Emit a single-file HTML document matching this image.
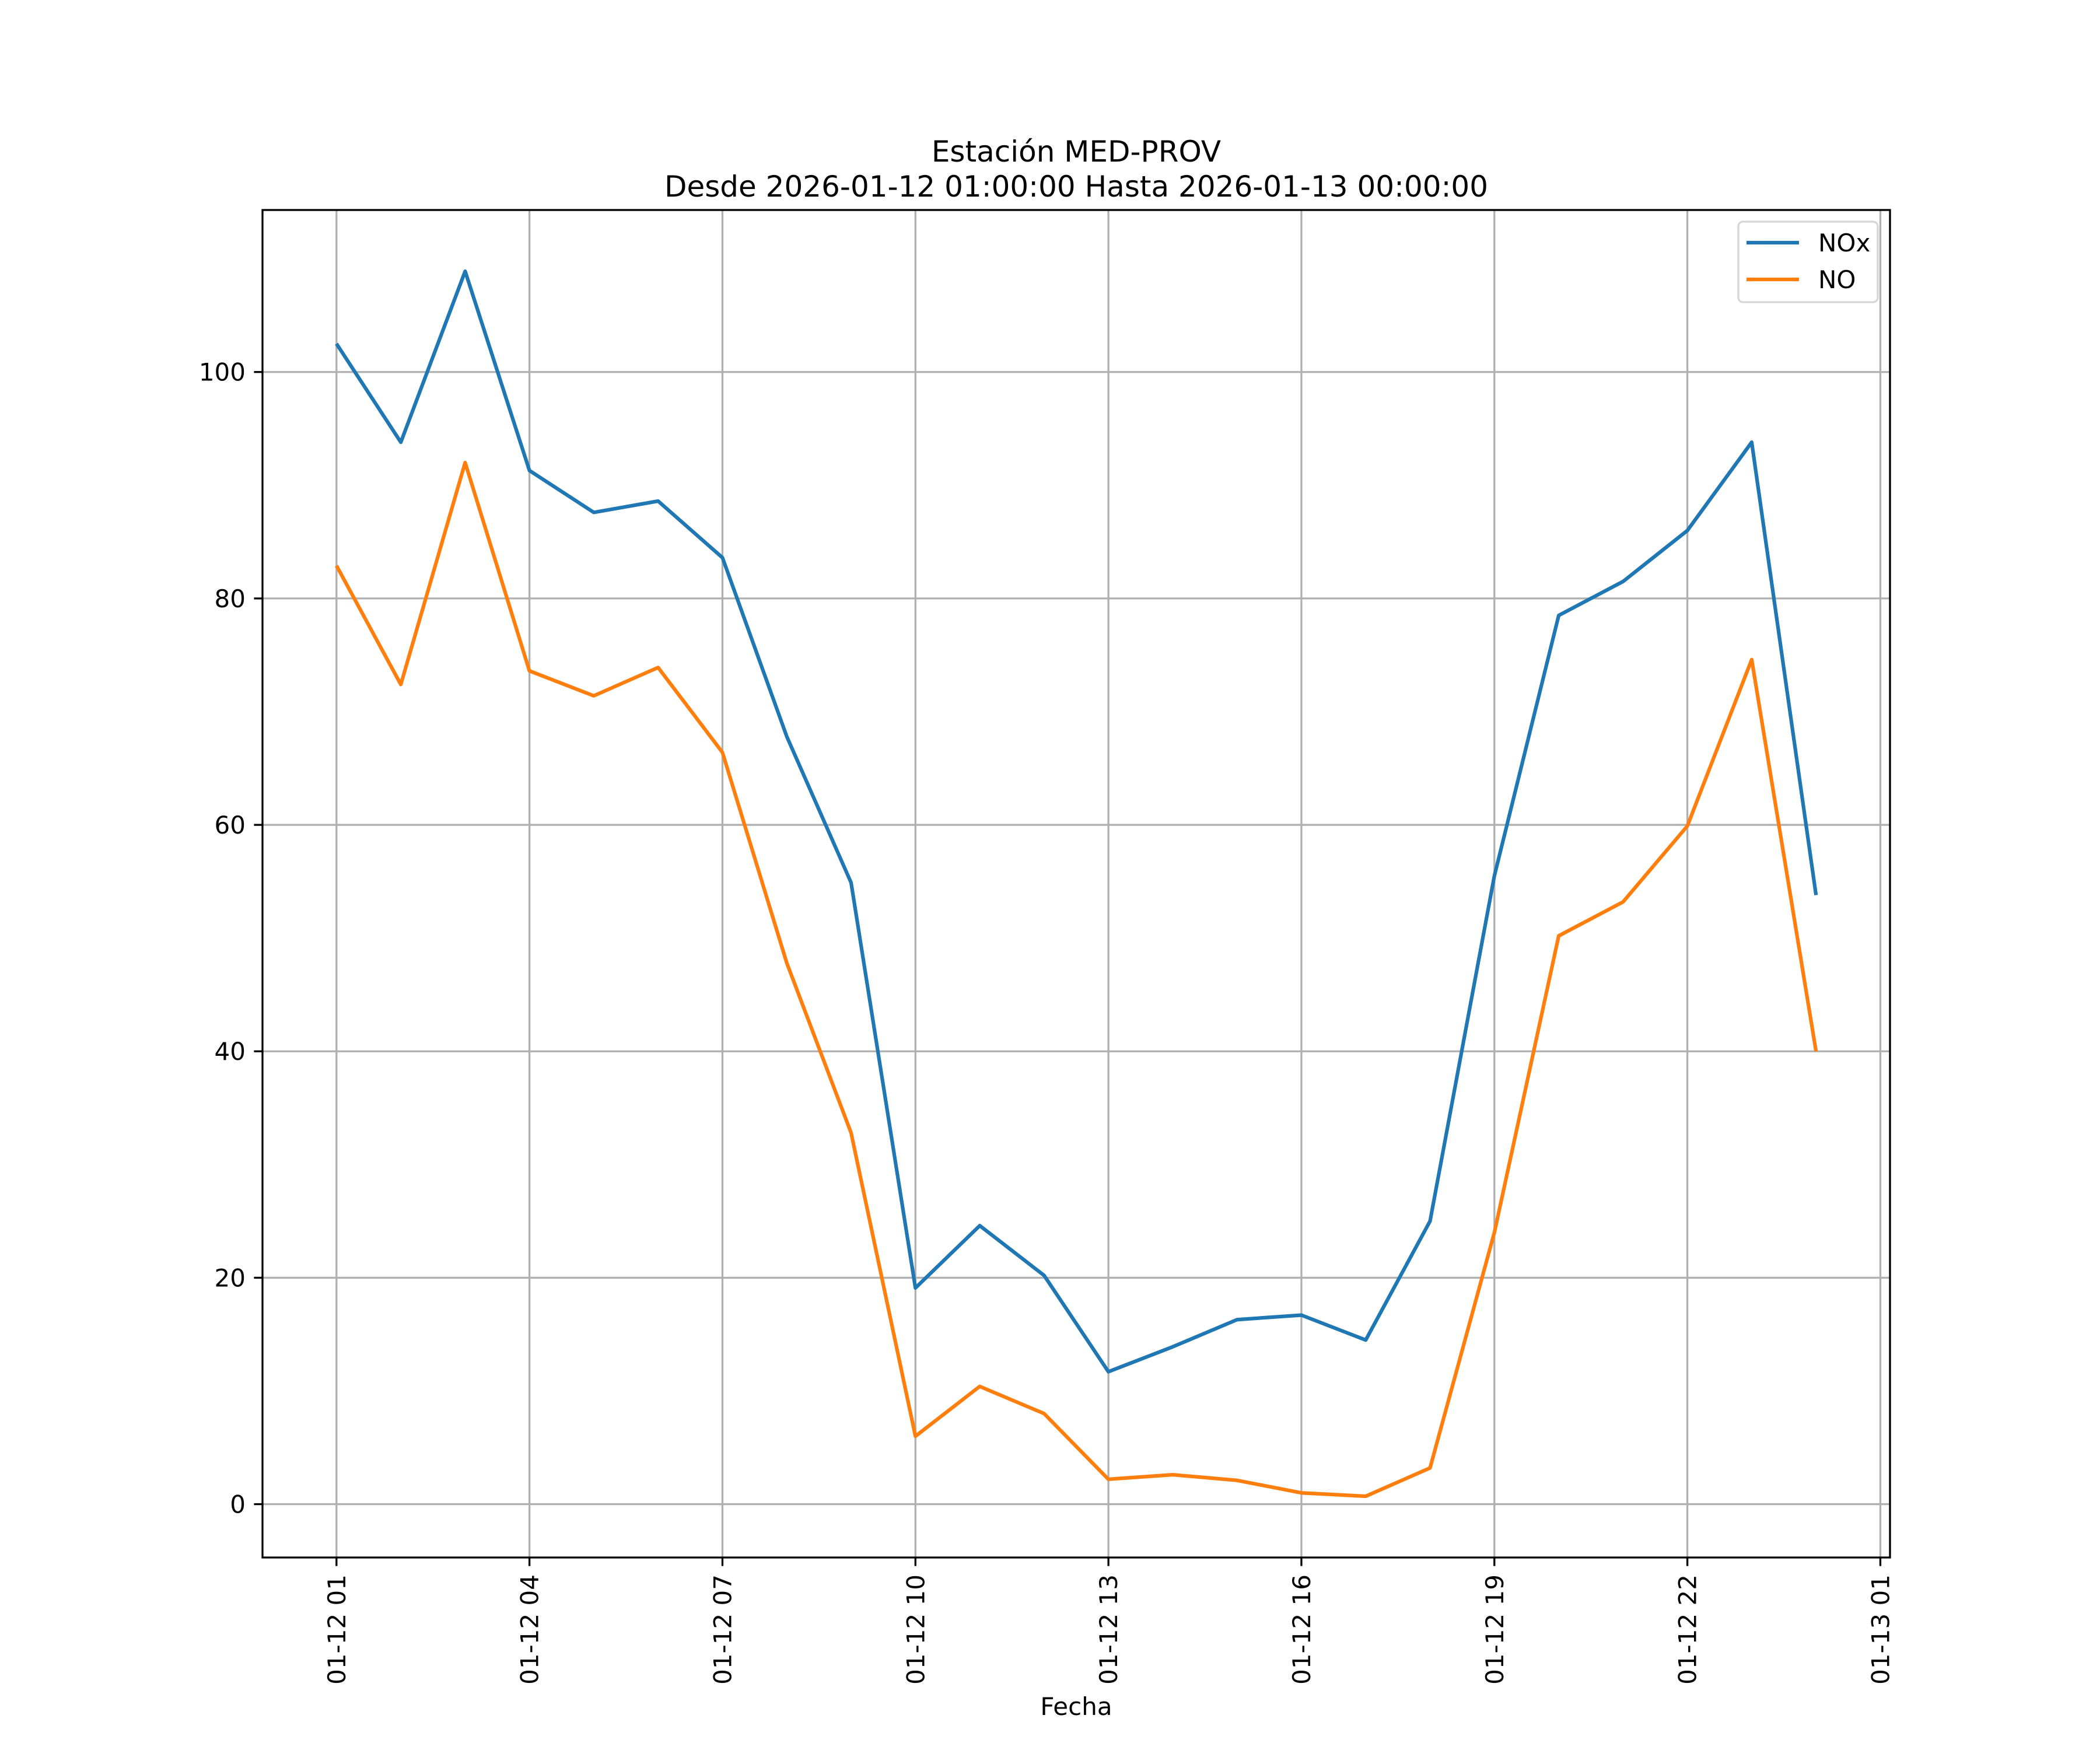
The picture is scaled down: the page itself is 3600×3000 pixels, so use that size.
<!DOCTYPE html>
<html><head><meta charset="utf-8"><style>
html,body{margin:0;padding:0;background:#fff;}
svg{display:block;font-family:"DejaVu Sans","Liberation Sans",sans-serif;}
</style></head><body>
<svg id="chart" width="3600" height="3000" viewBox="0 0 3600 3000" xmlns="http://www.w3.org/2000/svg">
<rect width="3600" height="3000" fill="#fff"/>
<text x="1845" y="277" font-size="50" text-anchor="middle">Estación MED-PROV</text>
<text x="1845" y="337" font-size="50" text-anchor="middle">Desde 2026-01-12 01:00:00 Hasta 2026-01-13 00:00:00</text>
<g id="grid"></g>
<g id="series"></g>
<rect x="450" y="360" width="2790" height="2310" fill="none" stroke="#000" stroke-width="3.3"/>
<g id="ticks"></g>
<text x="1845" y="2940" font-size="42" text-anchor="middle">Fecha</text>
<g>
<rect x="2980" y="380" width="239" height="138" rx="8" fill="#fff" fill-opacity="0.8" stroke="#d6d6d6" stroke-width="3.3"/>
<line x1="2994" y1="416" x2="3084" y2="416" stroke="#1f77b4" stroke-width="6.25"/>
<text x="3117" y="431" font-size="42">NOx</text>
<line x1="2994" y1="479" x2="3084" y2="479" stroke="#ff7f0e" stroke-width="6.25"/>
<text x="3117" y="494" font-size="42">NO</text>
</g>
</svg>
<script>
const hours = [1,2,3,4,5,6,7,8,9,10,11,12,13,14,15,16,17,18,19,20,21,22,23,24];
const noxValues = [102.5,93.8,108.9,91.3,87.6,88.6,83.6,67.8,54.9,19.1,24.6,20.2,11.7,13.9,16.3,16.7,14.5,25.0,55.5,78.5,81.5,86.0,93.8,53.8];
const noValues = [82.9,72.4,92.0,73.6,71.4,73.9,66.4,47.8,32.8,6.0,10.4,8.0,2.2,2.6,2.1,1.0,0.7,3.2,24.0,50.2,53.2,59.9,74.6,40.0];
const xTickHours = [1,4,7,10,13,16,19,22,25];
const xTickLabels = ["01-12 01","01-12 04","01-12 07","01-12 10","01-12 13","01-12 16","01-12 19","01-12 22","01-13 01"];
const yTicks = [0,20,40,60,80,100];

const L=450,R=3240,T=360,B=2670;
const allV = noxValues.concat(noValues);
const vmin=Math.min(...allV), vmax=Math.max(...allV);
const ypad=(vmax-vmin)*0.05, y0=vmin-ypad, y1=vmax+ypad;
const hmin=Math.min(...hours), hmax=Math.max(...hours);
const xpad=(hmax-hmin)*0.05, x0=hmin-xpad, x1=hmax+xpad;
const sx=h=>L+(h-x0)/(x1-x0)*(R-L);
const sy=v=>B-(v-y0)/(y1-y0)*(B-T);
const NS="http://www.w3.org/2000/svg";
function mk(tag,attrs,parent){const e=document.createElementNS(NS,tag);for(const k in attrs)e.setAttribute(k,attrs[k]);parent.appendChild(e);return e;}
const grid=document.getElementById('grid'),ticks=document.getElementById('ticks'),series=document.getElementById('series');

xTickHours.forEach((h,i)=>{
  const x=sx(h);
  const g=mk('line',{x1:x,y1:T,x2:x,y2:B,stroke:'#b0b0b0','stroke-width':3.3},grid);
  
  
  const t=mk('line',{x1:x,y1:B,x2:x,y2:B+14.6,stroke:'#000','stroke-width':3.3},ticks);
  
  
  const lb=mk('text',{x:0,y:0,'font-size':42,'text-anchor':'end',transform:`translate(${x+15},${B+29}) rotate(-90)`},ticks);
  lb.textContent=xTickLabels[i];
  
  
});
yTicks.forEach(v=>{
  const y=sy(v);
  const g=mk('line',{x1:L,y1:y,x2:R,y2:y,stroke:'#b0b0b0','stroke-width':3.3},grid);
  
  
  const t=mk('line',{x1:L-14.6,y1:y,x2:L,y2:y,stroke:'#000','stroke-width':3.3},ticks);
  
  
  const lb=mk('text',{x:L-29,y:y+15,'font-size':42,'text-anchor':'end'},ticks);
  lb.textContent=String(v);
  
  
});
function drawLine(vals,color,name){
  const pts=hours.map((h,i)=>sx(h).toFixed(1)+','+sy(vals[i]).toFixed(1)).join(' ');
  const p=mk('polyline',{points:pts,fill:'none',stroke:color,'stroke-width':6.25,'stroke-linejoin':'round'},series);
  
  
}
drawLine(noxValues,'#1f77b4','nox-line');
drawLine(noValues,'#ff7f0e','no-line');
</script>
</body></html>
